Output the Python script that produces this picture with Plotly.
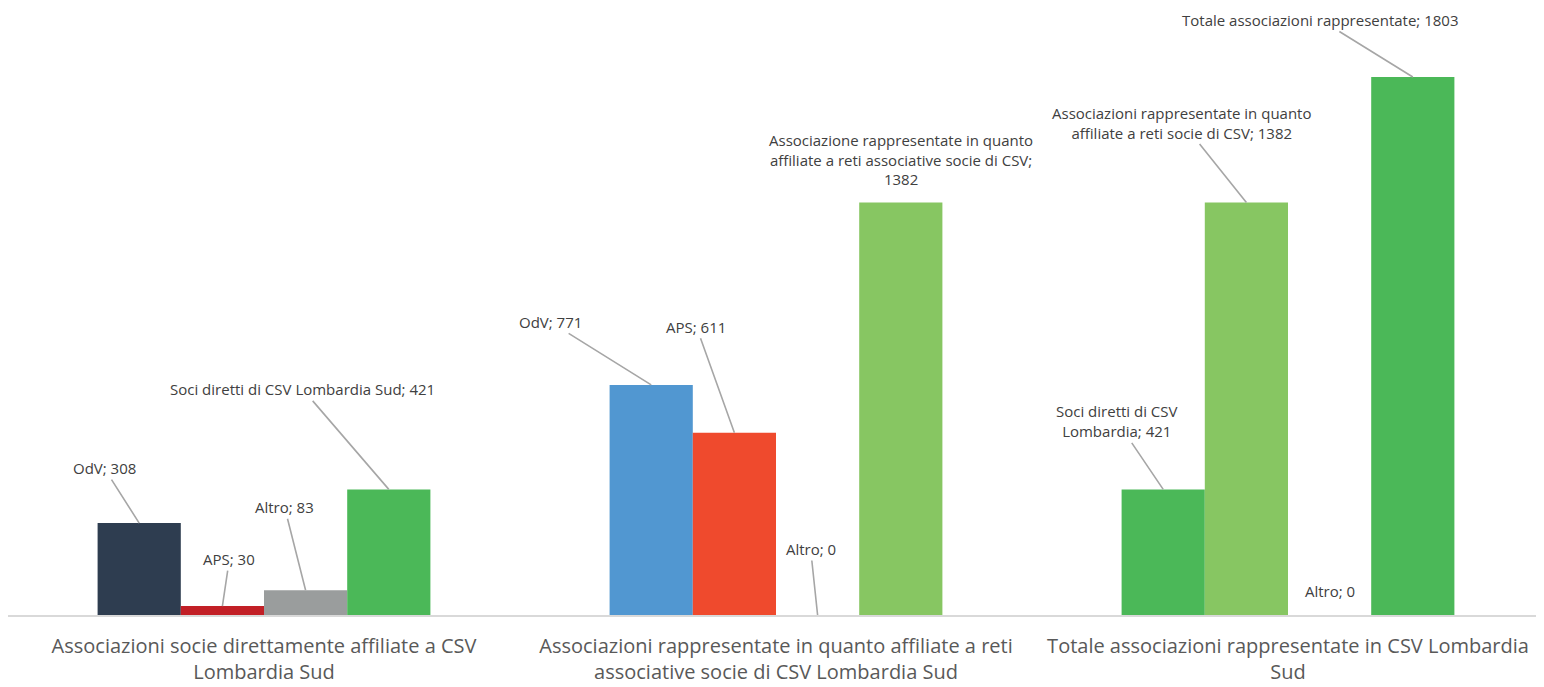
import plotly.graph_objects as go

categories = [
    "Associazioni socie direttamente affiliate a CSV<br>Lombardia Sud",
    "Associazioni rappresentate in quanto affiliate a reti<br>associative socie di CSV Lombardia Sud",
    "Totale associazioni rappresentate in CSV Lombardia<br>Sud",
]

# values per bar slot within each group
slot1_values = [308, 771, 421]
slot2_values = [30, 611, 1382]
slot3_values = [83, 0, 0]
slot4_values = [421, 1382, 1803]

slot1_labels = ["OdV", "OdV", "Soci diretti di CSV<br>Lombardia"]
slot2_labels = ["APS", "APS", "Associazioni rappresentate in quanto<br>affiliate a reti socie di CSV"]
slot3_labels = ["Altro", "Altro", "Altro"]
slot4_labels = ["Soci diretti di CSV Lombardia Sud",
                "Associazione rappresentate in quanto<br>affiliate a reti associative socie di CSV;<br>",
                "Totale associazioni rappresentate"]

slot1_colors = ["#2E3D50", "#5197D1", "#4BB858"]
slot2_colors = ["#C21F26", "#EF4A2D", "#87C662"]
slot3_colors = ["#9A9D9D", "#9A9D9D", "#9A9D9D"]
slot4_colors = ["#4BB858", "#87C662", "#4BB858"]

slots = [
    (slot1_values, slot1_labels, slot1_colors),
    (slot2_values, slot2_labels, slot2_colors),
    (slot3_values, slot3_labels, slot3_colors),
    (slot4_values, slot4_labels, slot4_colors),
]

W, H = 1536, 679
ML, MR, MT, MB = 0, 0, 69, 72
BARGAP = 0.35

fig = go.Figure()
for vals, labs, cols in slots:
    fig.add_trace(go.Bar(x=categories, y=vals, marker=dict(color=cols, line=dict(width=0)),
                         showlegend=False, hoverinfo="skip"))

bar_px = (W - ML - MR) / len(categories) * (1 - BARGAP) / len(slots)

# label placement (pixel offsets of label centre from bar top), per slot/group; None = no leader
offsets = [
    [(-35, -55), (-101, -63), (-46, -68)],
    [(7, -47), (-38, -106), (-64, -80)],
    [(-21, -83), (-7, -66), None],
    [(-86, -100), None, (-92, -57)],
]

annotations = []
for si, (vals, labs, cols) in enumerate(slots):
    xs = (si - 1.5) * bar_px
    for gi, cat in enumerate(categories):
        lab = labs[gi]
        if lab.endswith("<br>"):
            text = f"{lab}{vals[gi]}"
        else:
            text = f"{lab}; {vals[gi]}"
        off = offsets[si][gi]
        font = dict(family="Open Sans", size=15, color="#404040")
        if off is None:
            annotations.append(dict(x=cat, y=vals[gi], xref="x", yref="y", text=text,
                                    showarrow=False, xshift=xs, yanchor="bottom",
                                    yshift=12, font=font))
        else:
            annotations.append(dict(x=cat, y=vals[gi], xref="x", yref="y", text=text,
                                    showarrow=True, arrowhead=0, arrowwidth=1.6,
                                    arrowcolor="#A6A6A6", ax=off[0], ay=off[1],
                                    standoff=0, xshift=xs, font=font))

fig.update_layout(
    width=W, height=H,
    margin=dict(l=ML, r=MR, t=MT, b=MB, autoexpand=False),
    barmode="group", bargap=BARGAP, bargroupgap=0,
    plot_bgcolor="white", paper_bgcolor="white",
    annotations=annotations,
    xaxis=dict(showline=True, linecolor="#D9D9D9", linewidth=2, showgrid=False,
               ticks="", tickfont=dict(family="Open Sans", size=20, color="#595959"),
               ticklabelstandoff=12, automargin=False),
    yaxis=dict(range=[0, 1803], visible=False, showgrid=False, zeroline=False),
)

fig.write_html("out.html")
